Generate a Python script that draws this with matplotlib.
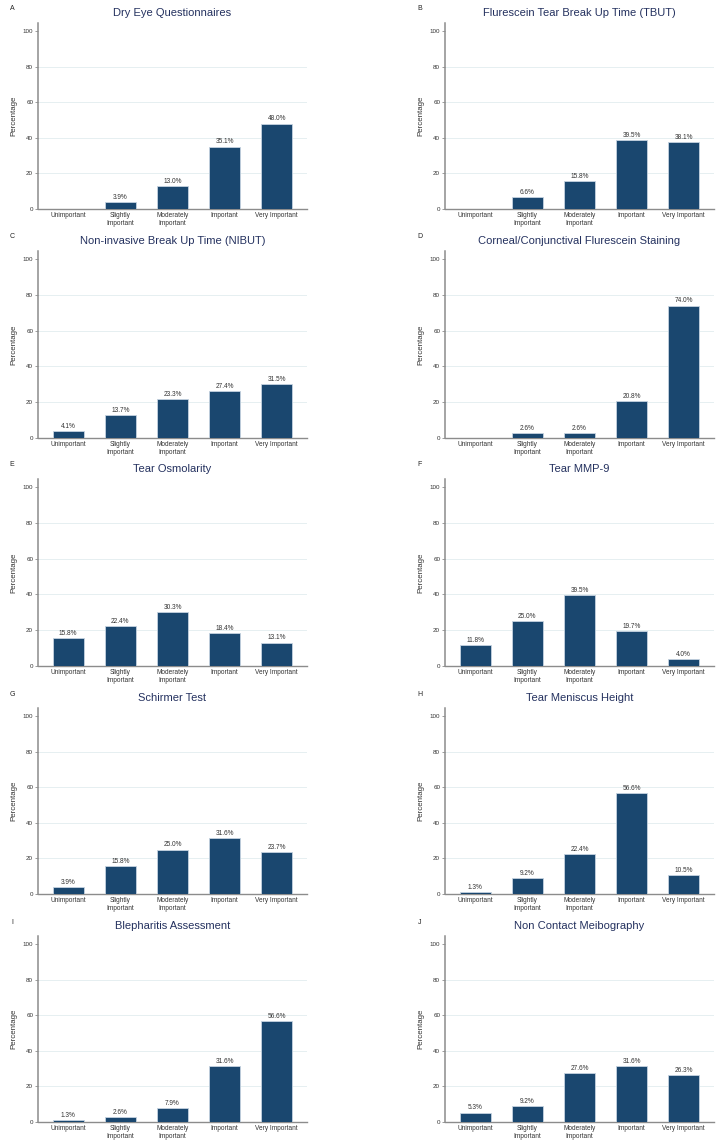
import matplotlib
matplotlib.use("Agg")
import matplotlib.pyplot as plt

plt.rcParams['font.family'] = ['Liberation Sans', 'DejaVu Sans']

categories = ["Unimportant", "Slightly\nImportant", "Moderately\nImportant", "Important", "Very Important"]
letters = ["A", "B", "C", "D", "E", "F", "G", "H", "I", "J"]
titles = [
    "Dry Eye Questionnaires",
    "Flurescein Tear Break Up Time (TBUT)",
    "Non-invasive Break Up Time (NIBUT)",
    "Corneal/Conjunctival Flurescein Staining",
    "Tear Osmolarity",
    "Tear MMP-9",
    "Schirmer Test",
    "Tear Meniscus Height",
    "Blepharitis Assessment",
    "Non Contact Meibography",
]

# printed labels (None = no bar / no label)
dry_eye_q = [None, 3.9, 13.0, 35.1, 48.0]
tbut = [None, 6.6, 15.8, 39.5, 38.1]
nibut = [4.1, 13.7, 23.3, 27.4, 31.5]
staining = [None, 2.6, 2.6, 20.8, 74.0]
osmolarity = [15.8, 22.4, 30.3, 18.4, 13.1]
mmp9 = [11.8, 25.0, 39.5, 19.7, 4.0]
schirmer = [3.9, 15.8, 25.0, 31.6, 23.7]
meniscus = [1.3, 9.2, 22.4, 56.6, 10.5]
blepharitis = [1.3, 2.6, 7.9, 31.6, 56.6]
meibography = [5.3, 9.2, 27.6, 31.6, 26.3]

# bar heights as drawn (differ slightly from printed labels in B and C)
tbut_bars = [0, 6.6, 15.8, 38.8, 37.6]
nibut_bars = [3.9, 13.0, 22.0, 26.0, 30.0]

labels = [dry_eye_q, tbut, nibut, staining, osmolarity, mmp9, schirmer, meniscus, blepharitis, meibography]
bars = [dry_eye_q, tbut_bars, nibut_bars, staining, osmolarity, mmp9, schirmer, meniscus, blepharitis, meibography]

W, H = 724, 1143
fig = plt.figure(figsize=(W / 100, H / 100), dpi=100)

bar_color = '#1a476f'
title_color = '#24315f'
axis_color = '#8c8c8c'
text_color = '#333333'
ytop = 104.5

col_x = [(38, 307), (445, 714)]
row_y = [(31, 209), (259, 438), (487, 666), (716, 894), (944, 1122)]

for i in range(10):
    r, c = divmod(i, 2)
    x0, x1 = col_x[c]
    y100, y0 = row_y[r]
    hpx = (y0 - y100) * ytop / 100
    ax = fig.add_axes([x0 / W, (H - y0) / H, (x1 - x0) / W, hpx / H])

    heights = [0 if v is None else v for v in bars[i]]
    xs = list(range(len(categories)))
    ax.bar(xs, heights, width=0.6, color=bar_color, edgecolor='#c5d3e0', linewidth=0.6, zorder=3)
    for x, h, lab in zip(xs, heights, labels[i]):
        if lab is None:
            continue
        ax.text(x, h + 0.6, f"{lab:.1f}%", ha='center', va='bottom', fontsize=4.7, color=text_color, zorder=4)

    ax.set_xlim(-0.58, 4.58)
    ax.set_ylim(0, ytop)
    ax.set_yticks([0, 20, 40, 60, 80, 100])
    for g in [20, 40, 60, 80]:
        ax.axhline(g, color='#e6eff1', linewidth=0.7, zorder=1)
    ax.set_xticks(xs)
    ax.set_xticklabels(categories, fontsize=4.7, color=text_color, linespacing=1.1)
    ax.tick_params(axis='x', length=0, pad=2.5)
    ax.tick_params(axis='y', length=2, width=0.6, color=axis_color, labelsize=4.5, labelcolor=text_color, pad=1.5)
    for s in ['top', 'right']:
        ax.spines[s].set_visible(False)
    ax.spines['left'].set_color(axis_color)
    ax.spines['left'].set_linewidth(1.1)
    ax.spines['bottom'].set_color(axis_color)
    ax.spines['bottom'].set_linewidth(1.0)
    ax.set_ylabel("Percentage", fontsize=5.7, color=text_color, labelpad=3.5)

    fig.text((x0 + x1) / 2 / W, 1 - (y100 - 18) / H, titles[i], ha='center', va='center',
             fontsize=8, color=title_color)
    lx = 12 if c == 0 else 420
    fig.text(lx / W, 1 - (y100 - 22) / H, letters[i], ha='center', va='center', fontsize=5, color='#222222')

fig.savefig("out.png", dpi=100, facecolor='white')
